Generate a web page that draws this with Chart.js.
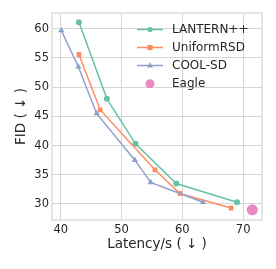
<!doctype html>
<html lang="en">
  <head>
    <meta charset="UTF-8" />
    <title>FID vs Latency</title>
    <script src="https://cdn.jsdelivr.net/npm/chart.js"></script>
    <style>
      html, body { margin: 0; padding: 0; background: #fff; }
      #wrap { width: 276px; height: 269px; }
    </style>
  </head>
  <body>
    <div id="wrap"><canvas id="fidChart"></canvas></div>

    <script>
      // values
      const lanternX = [43.0, 47.6, 52.3, 59.0, 69.0];
      const lanternY = [61.1, 48.0, 40.3, 33.5, 30.3];
      const uniformX = [43.0, 46.5, 55.5, 59.6, 68.0];
      const uniformY = [55.6, 46.1, 35.85, 31.8, 29.3];
      const coolX = [40.1, 42.9, 45.9, 52.2, 54.8, 63.4];
      const coolY = [59.7, 53.5, 45.5, 37.5, 33.7, 30.3];
      const eagleX = [71.5];
      const eagleY = [29.0];

      const xTicks = [40, 50, 60, 70];
      const yTicks = [30, 35, 40, 45, 50, 55, 60];

      const toPts = (xs, ys) => xs.map((x, i) => ({ x: x, y: ys[i] }));
      const FONT = "'DejaVu Sans', sans-serif";
      const TXT = "#262626";
      const GRID = "#d6d6d6";

      // seaborn-like frame on all four sides
      const framePlugin = {
        id: "frame",
        afterDatasetsDraw(chart) {
          const a = chart.chartArea;
          const ctx = chart.ctx;
          ctx.save();
          ctx.strokeStyle = GRID;
          ctx.lineWidth = 1.2;
          ctx.strokeRect(a.left, a.top, a.right - a.left, a.bottom - a.top);
          ctx.restore();
        },
      };

      // legend inside the plot, upper right
      const legendPlugin = {
        id: "innerLegend",
        afterDraw(chart) {
          const ctx = chart.ctx;
          const x0 = 137, lineLen = 26, textX = 172;
          const rows = [29.5, 47.5, 65.5, 83.7];
          ctx.save();
          ctx.font = "12px " + FONT;
          ctx.textBaseline = "middle";
          chart.data.datasets.forEach((ds, i) => {
            const y = rows[i];
            const cx = x0 + lineLen / 2;
            if (ds.showLine !== false) {
              ctx.strokeStyle = ds.borderColor;
              ctx.lineWidth = 1.5;
              ctx.beginPath();
              ctx.moveTo(x0, y);
              ctx.lineTo(x0 + lineLen, y);
              ctx.stroke();
            }
            ctx.fillStyle = ds.backgroundColor;
            const r = ds.showLine === false ? 4.5 : 2.6;
            ctx.beginPath();
            if (ds.pointStyle === "rect") {
              ctx.rect(cx - r, y - r, 2 * r, 2 * r);
            } else if (ds.pointStyle === "triangle") {
              ctx.moveTo(cx, y - r - 0.6);
              ctx.lineTo(cx + r + 0.4, y + r * 0.8);
              ctx.lineTo(cx - r - 0.4, y + r * 0.8);
              ctx.closePath();
            } else {
              ctx.arc(cx, y, r, 0, Math.PI * 2);
            }
            ctx.fill();
            ctx.fillStyle = TXT;
            ctx.fillText(ds.label, textX, y + 0.5);
          });
          ctx.restore();
        },
      };

      new Chart(document.getElementById("fidChart").getContext("2d"), {
        type: "scatter",
        data: {
          datasets: [
            {
              label: "LANTERN++",
              data: toPts(lanternX, lanternY),
              showLine: true,
              borderColor: "#66c2a5",
              backgroundColor: "#66c2a5",
              borderWidth: 1.5,
              pointStyle: "circle",
              pointRadius: 3,
              pointBorderWidth: 0,
              order: 3,
            },
            {
              label: "UniformRSD",
              data: toPts(uniformX, uniformY),
              showLine: true,
              borderColor: "#fc8d62",
              backgroundColor: "#fc8d62",
              borderWidth: 1.5,
              pointStyle: "rect",
              pointRadius: 3.4,
              pointBorderWidth: 0,
              order: 2,
            },
            {
              label: "COOL-SD",
              data: toPts(coolX, coolY),
              showLine: true,
              borderColor: "#8da0cb",
              backgroundColor: "#8da0cb",
              borderWidth: 1.5,
              pointStyle: "triangle",
              pointRadius: 3.6,
              pointBorderWidth: 0,
              order: 1,
            },
            {
              label: "Eagle",
              data: toPts(eagleX, eagleY),
              showLine: false,
              borderColor: "#e78ac3",
              backgroundColor: "#e78ac3",
              pointStyle: "circle",
              pointRadius: 5.5,
              pointBorderWidth: 0,
              order: 0,
            },
          ],
        },
        options: {
          responsive: true,
          maintainAspectRatio: false,
          animation: false,
          layout: { padding: { top: 13, right: 14, left: 0, bottom: 0 } },
          plugins: {
            legend: { display: false },
            tooltip: { enabled: false },
          },
          scales: {
            x: {
              type: "linear",
              min: 38.57,
              max: 73.1,
              afterBuildTicks: (s) => { s.ticks = xTicks.map((v) => ({ value: v })); },
              afterFit: (s) => { s.height = 49; },
              grid: { color: GRID, lineWidth: 1, drawTicks: false },
              border: { display: false },
              ticks: { color: TXT, padding: 3, font: { family: FONT, size: 11.5 }, maxRotation: 0 },
              title: {
                display: true,
                text: "Latency/s ( \u2193 )",
                color: TXT,
                font: { family: FONT, size: 13.5 },
                padding: { top: 0, bottom: 16 },
              },
            },
            y: {
              type: "linear",
              min: 27.26,
              max: 62.7,
              afterBuildTicks: (s) => { s.ticks = yTicks.map((v) => ({ value: v })); },
              afterFit: (s) => { s.width = 52; },
              grid: { color: GRID, lineWidth: 1, drawTicks: false },
              border: { display: false },
              ticks: { color: TXT, padding: 3, font: { family: FONT, size: 11.5 } },
              title: {
                display: true,
                text: "FID ( \u2193 )",
                color: TXT,
                font: { family: FONT, size: 13.5 },
                padding: { top: 13.5, bottom: 0 },
              },
            },
          },
        },
        plugins: [framePlugin, legendPlugin],
      });
    </script>
  </body>
</html>
